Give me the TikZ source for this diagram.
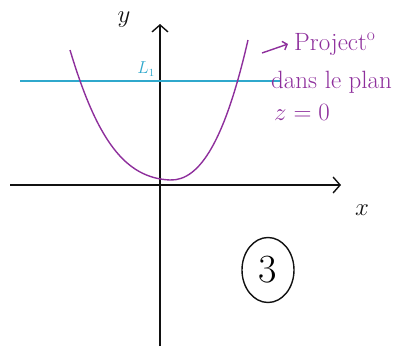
\documentclass[tikz,border=0pt]{standalone}
\usepackage{fontspec}
\usepackage{tikz}
\usetikzlibrary{arrows.meta,positioning,shapes.geometric}
\usepackage{amsmath,amssymb}
\usepackage{xcolor}
\definecolor{plum}{HTML}{8E2F9C}
\definecolor{lagoon}{HTML}{2FA8CC}
\definecolor{ink}{HTML}{111111}

\begin{document}
\begin{tikzpicture}[x=1pt,y=-1pt,
  axis/.style={ink,line width=1.4pt,-{Straight Barb[length=7pt,width=16pt,line width=1.4pt]}},
  note/.style={plum,font=\fontsize{25}{26}\selectfont,anchor=west,inner sep=0pt}]
\useasboundingbox (0,0) rectangle (397,349);

% axes
\coordinate (xs) at (10,185);
\coordinate (xe) at (341,185);
\coordinate (ys) at (160,346);
\coordinate (ye) at (160,24);
\draw[axis] (xs) -- (xe);
\draw[axis] (ys) -- (ye);
\node[ink,font=\fontsize{26}{26}\selectfont] (ylab) at (124,20) {$y$};
\node[ink,font=\fontsize{24}{24}\selectfont] (xlab) at (362,210) {$x$};

% level line
\coordinate (la) at (20,81);
\coordinate (lb) at (281,81);
\draw[lagoon,line width=1.4pt] (la) -- (lb);
\node[lagoon,font=\fontsize{16}{16}\selectfont] (lone) at (146,69) {$L_1$};

% parabola
\draw[plum,line width=1.4pt] (70,50) .. controls (97,140) and (125,178) .. (170,180)
  .. controls (200,181) and (225,140) .. (248,40);

% note
\node[note] (proj) at (294,44) {Project\textsuperscript{o}};
\node[note] (plan) at (271,82) {dans le plan};
\node[note] (zero) at (274,112) {$z=0$};
\coordinate (pa) at (262,53);
\draw[plum,line width=1.4pt,-{Straight Barb[length=4pt,width=9pt]}] (pa) -- ([xshift=-6pt]proj.west);

% step number
\node[draw=ink,line width=1.4pt,ellipse,minimum width=52pt,minimum height=65pt,
  inner sep=0pt,font=\fontsize{40}{40}\selectfont] (three) at (268,270) {3};

\end{tikzpicture}
\end{document}
